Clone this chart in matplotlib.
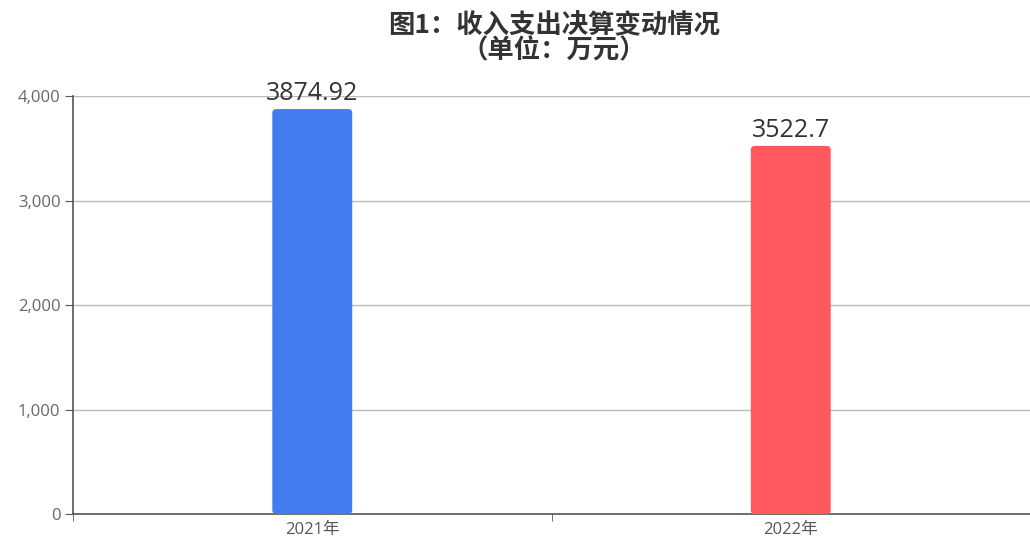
import matplotlib as mpl
import matplotlib.pyplot as plt
from matplotlib.patches import FancyBboxPatch

mpl.rcParams['font.family'] = ['Open Sans', 'Noto Sans CJK SC', 'DejaVu Sans']

years = ['2021年', '2022年']
amounts = [3874.92, 3522.7]
labels = ['3874.92', '3522.7']
colors = ['#437BF1', '#FF585D']
yticks = [0, 1000, 2000, 3000, 4000]

fig = plt.figure(figsize=(10.3, 5.44), dpi=100)
ax = fig.add_axes([0.0709, 0.0551, 0.9291, 0.7684])

x = range(len(years))
bars = ax.bar(x, amounts, width=0.167, color=colors, zorder=3)
ax.set_xlim(-0.5, 1.5)
ax.set_ylim(0, 4000)

# swap plain bars for rounded ones (radius in px converted to data units)
px_x = 2.0 / (0.9291 * 1030)
px_y = 4000 / (0.7684 * 544)
for b in bars:
    rb = FancyBboxPatch((b.get_x(), b.get_y()), b.get_width(), b.get_height(),
                        boxstyle='round,pad=0,rounding_size=%f' % (4 * px_x),
                        mutation_aspect=px_y / px_x,
                        facecolor=b.get_facecolor(), edgecolor='none', zorder=3)
    b.set_visible(False)
    ax.add_patch(rb)

for xi, v, t in zip(x, amounts, labels):
    ax.annotate(t, (xi, v), xytext=(0, 2), textcoords='offset points',
                ha='center', va='bottom', fontsize=18, color='#333333')

ax.set_yticks(yticks)
ax.set_yticklabels(['{:,}'.format(v) for v in yticks])
ax.set_xticks(list(x))
ax.set_xticklabels(years)
ax.set_xticks([-0.5, 0.5, 1.5], minor=True)
ax.tick_params(axis='x', which='major', length=0, pad=6, labelsize=12, labelcolor='#555555')
ax.tick_params(axis='x', which='minor', length=5, color='#555555', direction='out')
ax.tick_params(axis='y', length=6, color='#555555', labelsize=12, labelcolor='#666666', pad=3)

ax.grid(axis='y', color='#bbbbbb', linewidth=1, zorder=0)
for s in ['top', 'right']:
    ax.spines[s].set_visible(False)
ax.spines['left'].set_color('#555555')
ax.spines['bottom'].set_color('#555555')
ax.spines['left'].set_linewidth(1.2)
ax.spines['bottom'].set_linewidth(1.2)

fig.text(0.538, 0.978, '图1：收入支出决算变动情况\n（单位：万元）', ha='center', va='top',
         fontsize=19, fontweight='bold', color='#333333', linespacing=0.92,
         family=['Noto Sans CJK SC', 'DejaVu Sans'])

plt.savefig('out.png', dpi=100)
